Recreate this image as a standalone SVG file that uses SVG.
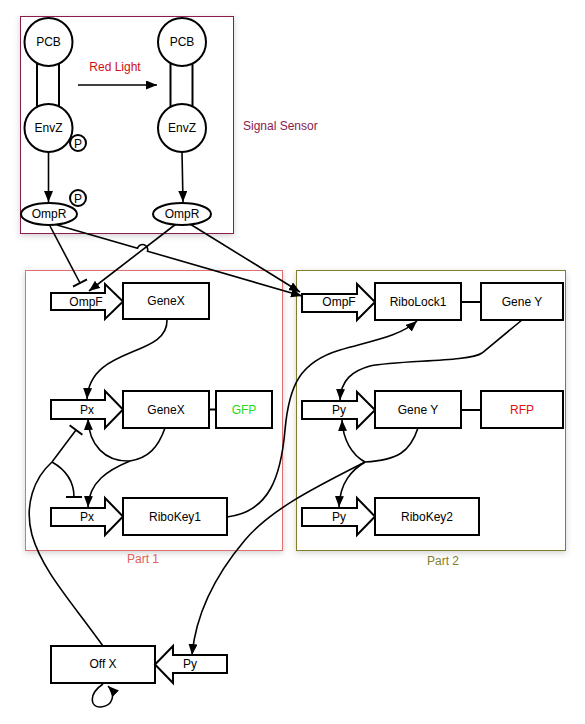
<svg xmlns="http://www.w3.org/2000/svg" width="585" height="724" viewBox="0 0 585 724">
<defs>
<filter id="sh" x="-10%" y="-10%" width="120%" height="120%">
<feDropShadow dx="0" dy="2" stdDeviation="3" flood-color="#000" flood-opacity="0.18"/>
</filter>
<marker id="ar" markerUnits="userSpaceOnUse" markerWidth="12" markerHeight="10" refX="11" refY="4.5" orient="auto">
<path d="M0,0 L11,4.5 L0,9 z" fill="#000"/>
</marker>
<marker id="tee" markerUnits="userSpaceOnUse" markerWidth="4" markerHeight="16" refX="2" refY="8" orient="auto">
<path d="M2,0 L2,16" stroke="#000" stroke-width="2"/>
</marker>
</defs>
<style>
text{font-family:"Liberation Sans",Arial,sans-serif;font-size:12px;fill:#000;text-anchor:middle}
.n{fill:#fff;stroke:#000;stroke-width:2}
.c{fill:none;stroke:#000;stroke-width:1.6}
.a{marker-end:url(#ar)}
.t{marker-end:url(#tee)}
.box{fill:#fff;stroke-width:1;filter:url(#sh)}
</style>
<rect width="585" height="724" fill="#fff"/>

<g id="signal-sensor-box">
<rect class="box" x="20.5" y="16.5" width="213" height="217" stroke="#8a1a4c"/>
<text x="243" y="130" style="text-anchor:start;fill:#8a1a4c">Signal Sensor</text>
</g>
<g id="part1-box">
<rect class="box" x="25.5" y="270.5" width="257" height="280" stroke="#e07070"/>
<text x="143" y="563" style="fill:#e06060">Part 1</text>
</g>
<g id="part2-box">
<rect class="box" x="296.5" y="270.5" width="269" height="280" stroke="#80802a"/>
<text x="443" y="565" style="fill:#80802a">Part 2</text>
</g>

<g id="connectors">
<path class="c a" d="M78,85 L157,85"/>
<path class="c a" d="M48.5,152 L48.5,202"/>
<path class="c a" d="M182,152 L183,202"/>
<path class="c t" d="M50,226 L80,283"/>
<path class="c a" d="M57,225 L137.5,248.3 A5,5 0 0 1 147.5,251.2 L302,296"/>
<path class="c a" d="M176,224 L89,291"/>
<path class="c a" d="M190,224 L300,292"/>
<path class="c a" d="M167,320 C168,358 90,345 87,399"/>
<path class="c" d="M165,428 C158,448 148,458 130,461"/>
<path class="c a" d="M130,461 C105,462 89,445 88,419"/>
<path class="c a" d="M130,461 C108,470 89,482 88,507"/>
<path class="c t" d="M103,646 C70,600 42,570 32,535 C24,505 34,478 52,462 L76,430"/>
<path class="c t" d="M52,462 C66,470 74,482 74,497"/>
<path class="c a" d="M227,517 C270,512 281,475 285,430 C289,385 300,362 340,350 C375,340 400,336 417,321"/>
<path class="c a" d="M522,320 L482,353 C470,362 400,360 370,366 C352,371 341,380 340,400"/>
<path class="c" d="M418,428 C410,452 398,460 365,462"/>
<path class="c a" d="M365,462 C352,455 343,440 342,420"/>
<path class="c a" d="M365,462 C352,470 340,482 339,507"/>
<path class="c a" d="M365,462 C320,485 272,508 245,540 C218,572 196,612 192,655"/>
<path class="c a" d="M103,684 C88,694 90,708 101,707 C113,706 116,694 108,686"/>
</g>

<g id="pcb-envz-left">
<line x1="37" y1="60" x2="37" y2="108" stroke="#000" stroke-width="2"/>
<line x1="59" y1="60" x2="59" y2="108" stroke="#000" stroke-width="2"/>
</g>
<g id="pcb-envz-right">
<line x1="170.5" y1="60" x2="170.5" y2="108" stroke="#000" stroke-width="2"/>
<line x1="192.5" y1="60" x2="192.5" y2="108" stroke="#000" stroke-width="2"/>
</g>
<g id="pcb1"><circle class="n" cx="48.5" cy="42" r="24"/><text x="48.5" y="46">PCB</text></g>
<g id="envz1"><circle class="n" cx="48.5" cy="128" r="24"/><text x="48.5" y="132">EnvZ</text></g>
<g id="p1"><circle class="n" cx="78" cy="143" r="8" stroke-width="1.6"/><text x="78" y="147.5">P</text></g>
<g id="pcb2"><circle class="n" cx="182" cy="42" r="24"/><text x="182" y="46">PCB</text></g>
<g id="envz2"><circle class="n" cx="182" cy="128" r="24"/><text x="182" y="132">EnvZ</text></g>
<g id="red-light"><text x="115" y="71" style="fill:#d01010">Red Light</text></g>
<g id="ompr1"><ellipse class="n" cx="49" cy="214" rx="28" ry="11"/><text x="49" y="218">OmpR</text></g>
<g id="p2"><circle class="n" cx="78" cy="198" r="8" stroke-width="1.6"/><text x="78" y="202.5">P</text></g>
<g id="ompr2"><ellipse class="n" cx="182" cy="214" rx="29" ry="11"/><text x="182" y="218">OmpR</text></g>

<g id="p1-ompf"><polygon class="n" points="51,293 105,293 105,284 123,301.5 105,319 105,310 51,310"/><text x="86" y="306">OmpF</text></g>
<g id="p1-genex1"><rect class="n" x="123" y="283" width="86" height="36"/><text x="166" y="305">GeneX</text></g>
<g id="p1-px1"><polygon class="n" points="51,400 105,400 105,391 123,409.5 105,428 105,419 51,419"/><text x="87" y="414">Px</text></g>
<g id="p1-genex2"><rect class="n" x="123" y="391" width="86" height="37"/><text x="166" y="414">GeneX</text></g>
<line x1="209" y1="409.5" x2="216" y2="409.5" stroke="#000" stroke-width="2"/>
<g id="p1-gfp"><rect class="n" x="216" y="391" width="56" height="37"/><text x="244" y="414" style="fill:#22dd22">GFP</text></g>
<g id="p1-px2"><polygon class="n" points="51,508 105,508 105,498 123,516.5 105,535 105,526 51,526"/><text x="87" y="521">Px</text></g>
<g id="p1-ribokey1"><rect class="n" x="123" y="498" width="104" height="37"/><text x="175" y="521">RiboKey1</text></g>

<g id="p2-ompf"><polygon class="n" points="302,294 357,294 357,284 375,302 357,320 357,312 302,312"/><text x="339" y="306">OmpF</text></g>
<g id="p2-ribolock1"><rect class="n" x="375" y="283" width="86" height="37"/><text x="418" y="306">RiboLock1</text></g>
<line x1="461" y1="302" x2="481" y2="302" stroke="#000" stroke-width="2"/>
<g id="p2-geney1"><rect class="n" x="481" y="283" width="82" height="37"/><text x="522" y="306">Gene Y</text></g>
<g id="p2-py1"><polygon class="n" points="302,401 357,401 357,392 375,410 357,428 357,419 302,419"/><text x="339" y="414">Py</text></g>
<g id="p2-geney2"><rect class="n" x="375" y="391" width="86" height="37"/><text x="418" y="414">Gene Y</text></g>
<line x1="461" y1="410" x2="481" y2="410" stroke="#000" stroke-width="2"/>
<g id="p2-rfp"><rect class="n" x="481" y="391" width="82" height="37"/><text x="522" y="414" style="fill:#e01010">RFP</text></g>
<g id="p2-py2"><polygon class="n" points="302,508 357,508 357,498 375,516.5 357,535 357,526 302,526"/><text x="339" y="521">Py</text></g>
<g id="p2-ribokey2"><rect class="n" x="375" y="498" width="104" height="37"/><text x="427" y="521">RiboKey2</text></g>

<g id="offx"><rect class="n" x="51" y="646" width="104" height="37"/><text x="103" y="668">Off X</text></g>
<g id="offx-py"><polygon class="n" points="227,655 173,655 173,646 155,664.5 173,683 173,673 227,673"/><text x="190" y="668">Py</text></g>
</svg>
